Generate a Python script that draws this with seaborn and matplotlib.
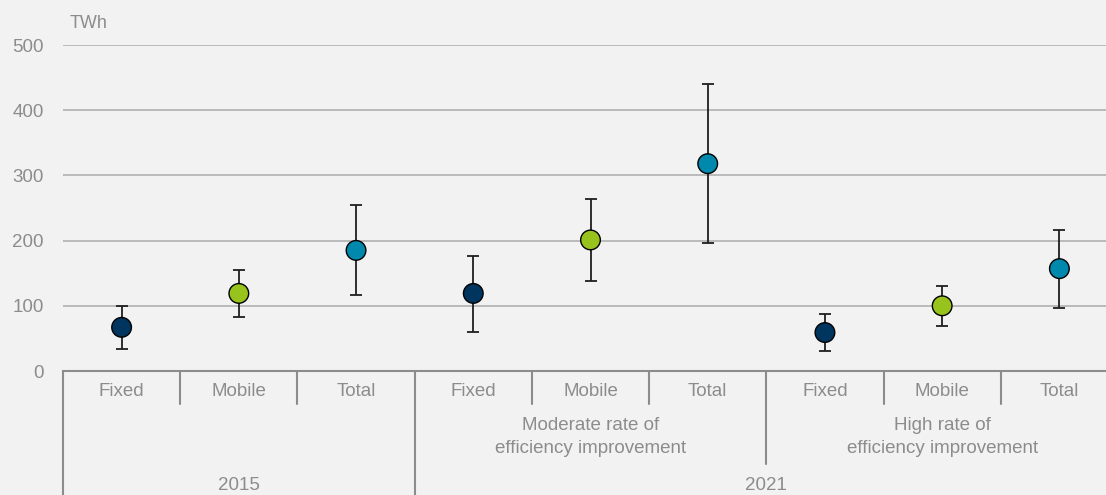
import matplotlib
matplotlib.use("Agg")
import matplotlib.pyplot as plt
import matplotlib.transforms as mtransforms
import seaborn as sns
import pandas as pd
import numpy as np

# ---- data ----
types = ["Fixed", "Mobile", "Total", "Fixed", "Mobile", "Total", "Fixed", "Mobile", "Total"]
values = [67, 119, 185, 119, 201, 318, 59, 100, 157]
lows = [34, 83, 116, 60, 138, 197, 30, 69, 97]
highs = [100, 155, 254, 177, 264, 440, 88, 130, 216]
scenarios = ["Moderate rate of\nefficiency improvement", "High rate of\nefficiency improvement"]
years = ["2015", "2021"]
yticks = [0, 100, 200, 300, 400, 500]
unit = "TWh"

colors = {"Fixed": "#00355F", "Mobile": "#97C31C", "Total": "#0089AD"}
bg = "#F2F2F2"
txt = "#8C8C8C"

sns.set_theme(style="white")
plt.rcParams["font.family"] = ["Liberation Sans", "DejaVu Sans"]

df = pd.DataFrame({"pos": np.arange(len(types)), "type": types, "value": values,
                   "low": lows, "high": highs})

fig = plt.figure(figsize=(11.06, 4.95), dpi=100, facecolor=bg)
W, H = 1106, 495
left, right, top, bottom = 63, 1118, 45, 371
ax = fig.add_axes([left / W, 1 - bottom / H, (right - left) / W, (bottom - top) / H])
ax.set_facecolor(bg)

# grid
for v in yticks[1:]:
    ax.axhline(v, color="#BABABA", lw=1.4, zorder=0)

# error bars
yerr = np.vstack([df["value"] - df["low"], df["high"] - df["value"]])
ax.errorbar(df["pos"], df["value"], yerr=yerr, fmt="none", ecolor="#1F1F1F",
            elinewidth=1.3, capsize=4, capthick=1.3, zorder=2, clip_on=False)

sns.scatterplot(data=df, x="pos", y="value", hue="type", palette=colors, s=200,
                edgecolor="black", linewidth=1.0, legend=False, ax=ax, zorder=3, clip_on=False)

ax.set_xlim(-0.5, len(types) - 0.5)
ax.set_ylim(0, 500)
ax.set_yticks(yticks)
ax.set_yticklabels([str(v) for v in yticks], color=txt, fontsize=13.5)
ax.tick_params(axis="y", length=0, pad=14)
ax.set_xticks([])
ax.set_xlabel("")
ax.set_ylabel("")
for s in ["top", "right", "left"]:
    ax.spines[s].set_visible(False)
ax.spines["bottom"].set_color("#8C8C8C")
ax.spines["bottom"].set_linewidth(1.5)

trans = mtransforms.blended_transform_factory(ax.transData, ax.transAxes)
ph = bottom - top
def fy(py):
    return -(py - bottom) / ph

# separator lines
sep_col = "#8C8C8C"
for b in range(len(types)):
    xb = b - 0.5
    if b == 0 or b == 3:
        yend = fy(495)
    elif b == 6:
        yend = fy(464)
    else:
        yend = fy(404)
    ax.plot([xb, xb], [0, yend], color=sep_col, lw=1.5, transform=trans, clip_on=False)

fs = 13.5
# level 1 labels
for i, t in enumerate(types):
    ax.text(i, fy(391), t, transform=trans, ha="center", va="center", color=txt, fontsize=fs)

# level 2 labels
ax.text(4, fy(437), scenarios[0], transform=trans, ha="center", va="center", color=txt,
        fontsize=fs, linespacing=1.45)
ax.text(7, fy(437), scenarios[1], transform=trans, ha="center", va="center", color=txt,
        fontsize=fs, linespacing=1.45)

# level 3 labels
ax.text(1, fy(485), years[0], transform=trans, ha="center", va="center", color=txt, fontsize=fs)
ax.text(5.5, fy(485), years[1], transform=trans, ha="center", va="center", color=txt, fontsize=fs)

# unit
fig.text(70 / W, 1 - 24 / H, unit, ha="left", va="center", color=txt, fontsize=13)

fig.savefig("out.png", dpi=100, facecolor=bg)
